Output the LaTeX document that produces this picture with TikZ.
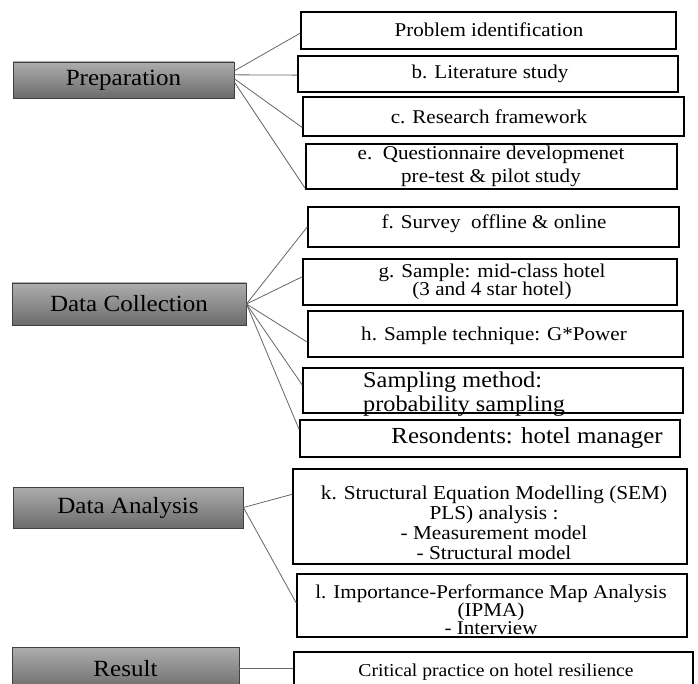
\documentclass[tikz,border=0pt]{standalone}
\usepackage{fontspec}
\setmainfont[FakeStretch=1.08]{Liberation Serif}
\usetikzlibrary{calc}
\newcommand{\fsz}[2]{\fontsize{#1}{#2}\selectfont}
\begin{document}
\begin{tikzpicture}[x=1pt,y=-1pt,
  leftbox/.style={draw=black!75, line width=0.9pt, top color=black!32, bottom color=black!58,
    inner sep=0pt, font=\fsz{23.2}{28}},
  rbox/.style={draw=black, line width=1.6pt, fill=white, inner sep=0pt},
  conn/.style={draw=black!60, line width=0.8pt},
  rtxt/.style={inner sep=0pt, align=center, font=\fsz{19.5}{21}},
]
\useasboundingbox (0,0) rectangle (698,684);
\clip (0,0) rectangle (698,684);

% ---- left stage boxes
\node[leftbox, minimum width=221, minimum height=36] (prep) at (123.5,80) {Preparation};
\node[leftbox, minimum width=234, minimum height=42] (dc) at (129,304) {Data Collection};
\node[leftbox, minimum width=230, minimum height=41] (da) at (128,507.5) {Data Analysis};
\node[leftbox, minimum width=227, minimum height=43] (res) at (125.5,668.5) {Result};

% ---- right boxes
\node[rbox, minimum width=375, minimum height=37] (a) at (488.5,30.5) {};
\node[rbox, minimum width=380, minimum height=36] (b) at (488,74) {};
\node[rbox, minimum width=381, minimum height=39] (c) at (493.5,116.5) {};
\node[rbox, minimum width=371, minimum height=45] (e) at (491.5,166.5) {};
\node[rbox, minimum width=371, minimum height=40] (f) at (493.5,227) {};
\node[rbox, minimum width=374, minimum height=46] (g) at (490,282) {};
\node[rbox, minimum width=375, minimum height=46] (h) at (495.5,334) {};
\node[rbox, minimum width=380, minimum height=45] (s) at (493,390.5) {};
\node[rbox, minimum width=380, minimum height=37] (r) at (490,438.5) {};
\node[rbox, minimum width=394, minimum height=95] (k) at (490,516.5) {};
\node[rbox, minimum width=390, minimum height=63] (l) at (492,605.5) {};
\node[rbox, minimum width=399, minimum height=46] (cr) at (493.5,675) {};

% ---- texts of right boxes
\node[rtxt] (ta) at (489,30) {Problem identification};
\node[rtxt] (tb) at (490,73.5) {b. Literature study};
\node[rtxt] (tc) at (489,117) {c. Research framework};
\node[rtxt, font=\fsz{19.5}{23}] (te) at (491,166.5) {e.\ \ Questionnaire developmenet\\pre-test \& pilot study};
\node[rtxt] (tf) at (494,224) {f. Survey\ \ offline \& online};
\node[rtxt, font=\fsz{19.5}{18}] (tg) at (492,281.5) {g. Sample: mid-class hotel\\(3 and 4 star hotel)};
\node[rtxt] (th) at (494,336) {h. Sample technique: G*Power};
\node[rtxt, align=left, anchor=west, font=\fsz{22.5}{24}] (ts) at (363,394.5) {Sampling method:\\probability sampling};
\node[rtxt, font=\fsz{23}{24}] (tr) at (527,438) {Resondents: hotel manager};
\node[rtxt, font=\fsz{19.7}{20}] (tk) at (494,523) {k. Structural Equation Modelling (SEM)\\PLS) analysis :\\- Measurement model\\- Structural model};
\node[rtxt, font=\fsz{19.5}{18}] (tl) at (491,610) {l. Importance-Performance Map Analysis\\(IPMA)\\- Interview};
\node[rtxt, font=\fsz{18.2}{20}] (tcr) at (496,672) {Critical practice on hotel resilience};

% ---- connectors
\draw[conn] ($(prep.north east)!0.25!(prep.south east)$) -- ($(a.north west)!0.57!(a.south west)$);
\draw[conn] ($(prep.north east)!0.36!(prep.south east)$) -- ($(b.north west)!0.53!(b.south west)$);
\draw[conn] ($(prep.north east)!0.47!(prep.south east)$) -- ($(c.north west)!0.77!(c.south west)$);
\draw[conn] ($(prep.north east)!0.56!(prep.south east)$) -- ($(e.north west)!0.97!(e.south west)$);

\draw[conn] (dc.east) -- (f.west);
\draw[conn] (dc.east) -- ($(g.north west)!0.39!(g.south west)$);
\draw[conn] (dc.east) -- ($(h.north west)!0.67!(h.south west)$);
\draw[conn] (dc.east) -- ($(s.north west)!0.38!(s.south west)$);
\draw[conn] (dc.east) -- ($(r.north west)!0.27!(r.south west)$);

\draw[conn] (da.east) -- ($(k.north west)!0.27!(k.south west)$);
\draw[conn] (da.east) -- ($(l.north west)!0.46!(l.south west)$);

\draw[conn] (res.east) -- (res.east -| cr.west);
\end{tikzpicture}
\end{document}
